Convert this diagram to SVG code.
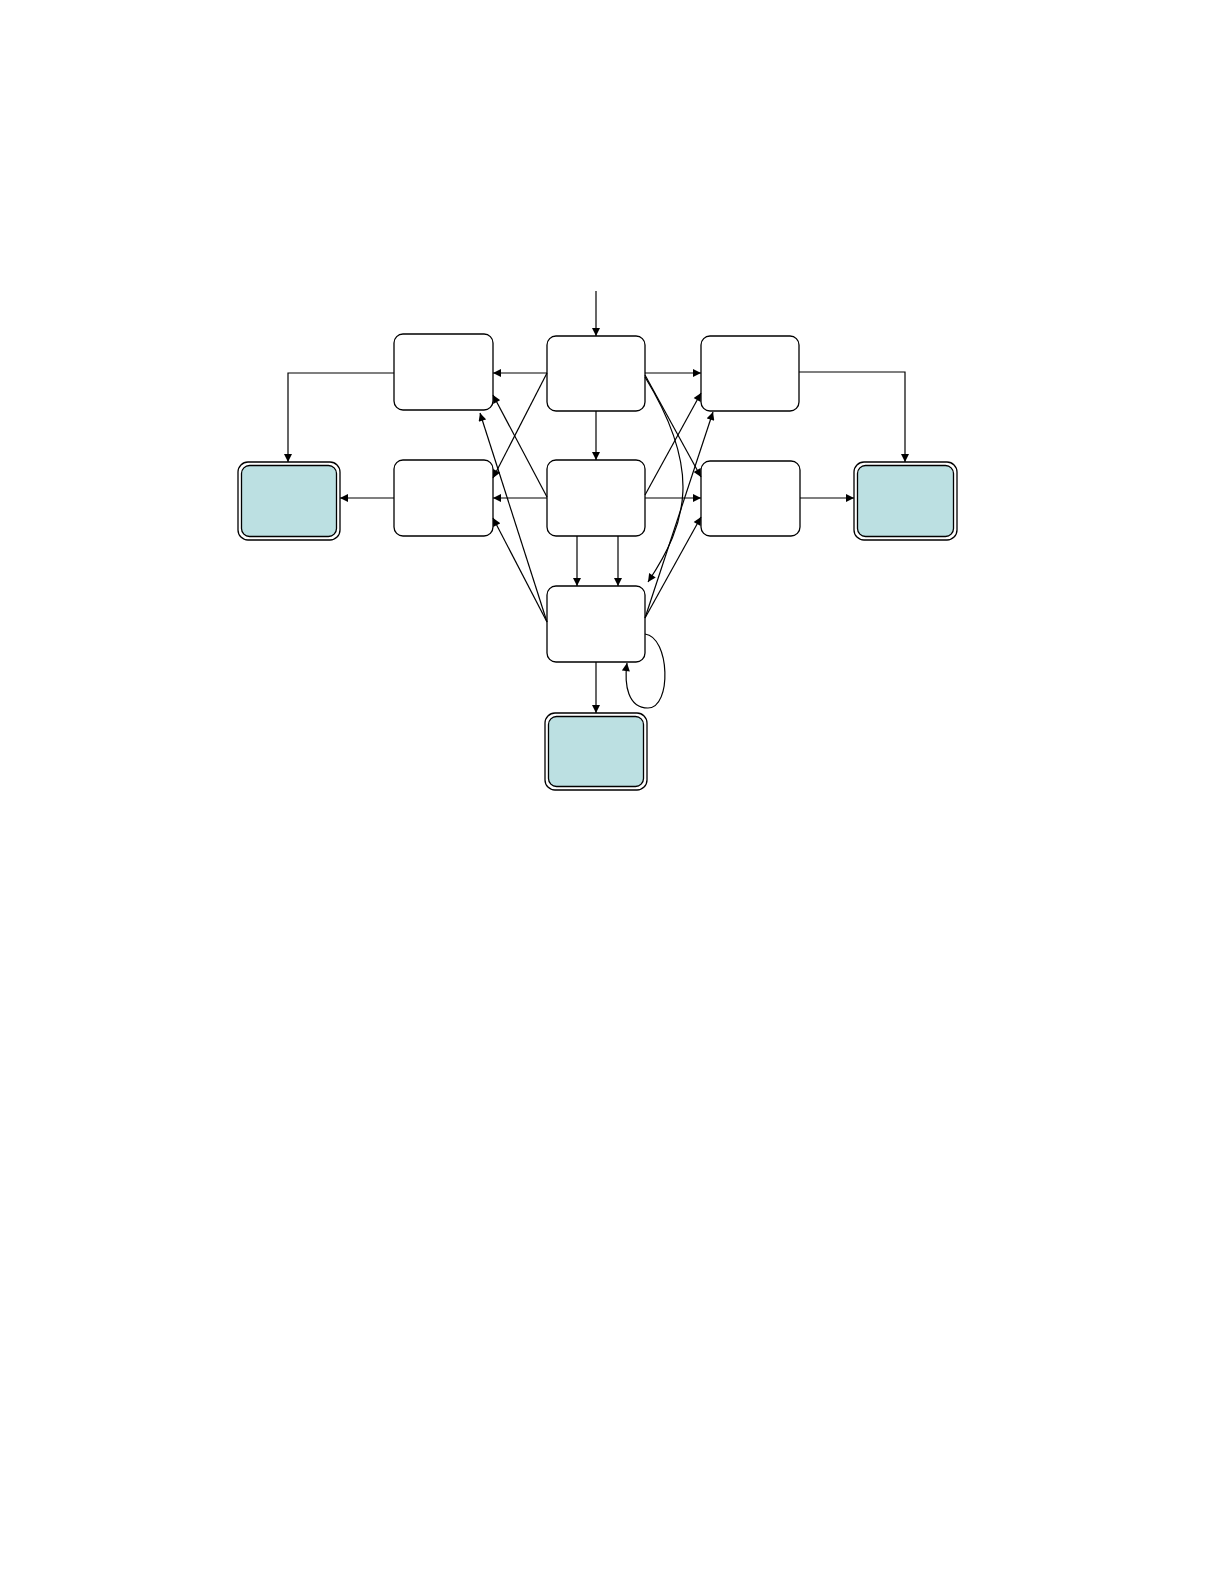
<svg xmlns="http://www.w3.org/2000/svg" width="1225" height="1585" viewBox="0 0 1225 1585">
<style>
.box{fill:#fff;stroke:#000;stroke-width:1.3}
.tout{fill:#fff;stroke:#000;stroke-width:1.3}
.tin{fill:#bce0e2;stroke:#000;stroke-width:1.3}
.c{fill:none;stroke:#000;stroke-width:1.2}
</style>
<defs>
<marker id="ah" viewBox="0 0 10 10" refX="10" refY="5" markerWidth="9" markerHeight="8" markerUnits="userSpaceOnUse" orient="auto">
<path d="M0,0 L10,5 L0,10 z" fill="#000"/>
</marker>
</defs>
<rect width="1225" height="1585" fill="#fff"/>
<g id="A"><rect class="box" x="394" y="334" width="99" height="76" rx="9"/></g>
<g id="B"><rect class="box" x="547" y="336" width="98" height="75" rx="9"/></g>
<g id="G"><rect class="box" x="701" y="336" width="98" height="75" rx="9"/></g>
<g id="C"><rect class="box" x="394" y="460" width="99" height="76" rx="9"/></g>
<g id="D"><rect class="box" x="547" y="460" width="98" height="76" rx="9"/></g>
<g id="H"><rect class="box" x="701" y="461" width="99" height="75" rx="9"/></g>
<g id="F"><rect class="box" x="547" y="586" width="98" height="76" rx="9"/></g>
<g id="E"><rect class="tout" x="238" y="462" width="102" height="78" rx="10"/><rect class="tin" x="241.5" y="465.5" width="95" height="71" rx="8"/></g>
<g id="I"><rect class="tout" x="854" y="462" width="103" height="78" rx="10"/><rect class="tin" x="857.5" y="465.5" width="96" height="71" rx="8"/></g>
<g id="J"><rect class="tout" x="545" y="713" width="102" height="77" rx="10"/><rect class="tin" x="548.5" y="716.5" width="95" height="70" rx="8"/></g>
<g id="connectors" class="c" marker-end="url(#ah)">
<path class="c" marker-end="url(#ah)" d="M596,291 L596,336"/>
<path class="c" marker-end="url(#ah)" d="M394,373 L288,373 L288,462"/>
<path class="c" marker-end="url(#ah)" d="M547,373 L493,373"/>
<path class="c" marker-end="url(#ah)" d="M547,498 L493,498"/>
<path class="c" marker-end="url(#ah)" d="M394,498 L340,498"/>
<path class="c" marker-end="url(#ah)" d="M547,373 L493,478"/>
<path class="c" marker-end="url(#ah)" d="M547,497 L493,395"/>
<path class="c" marker-end="url(#ah)" d="M547,622 L480,413"/>
<path class="c" marker-end="url(#ah)" d="M547,622 L493,518"/>
<path class="c" marker-end="url(#ah)" d="M596,411 L596,460"/>
<path class="c" marker-end="url(#ah)" d="M577,536 L577,586"/>
<path class="c" marker-end="url(#ah)" d="M618,536 L618,586"/>
<path class="c" marker-end="url(#ah)" d="M596,662 L596,713"/>
<path class="c" marker-end="url(#ah)" d="M645,373 L701,373"/>
<path class="c" marker-end="url(#ah)" d="M799,372 L905,372 L905,462"/>
<path class="c" marker-end="url(#ah)" d="M645,498 L701,498"/>
<path class="c" marker-end="url(#ah)" d="M800,498 L854,498"/>
<path class="c" marker-end="url(#ah)" d="M645,495 L701,393"/>
<path class="c" marker-end="url(#ah)" d="M645,375 L701,477"/>
<path class="c" marker-end="url(#ah)" d="M645,377 C702,470 688,522 648,582"/>
<path class="c" marker-end="url(#ah)" d="M645,618 L713,412"/>
<path class="c" marker-end="url(#ah)" d="M645,618 L701,517"/>
<path class="c" marker-end="url(#ah)" d="M645,634 C670,637 672,708 648,708 C628,708 624,685 627,663"/>
</g>
</svg>
